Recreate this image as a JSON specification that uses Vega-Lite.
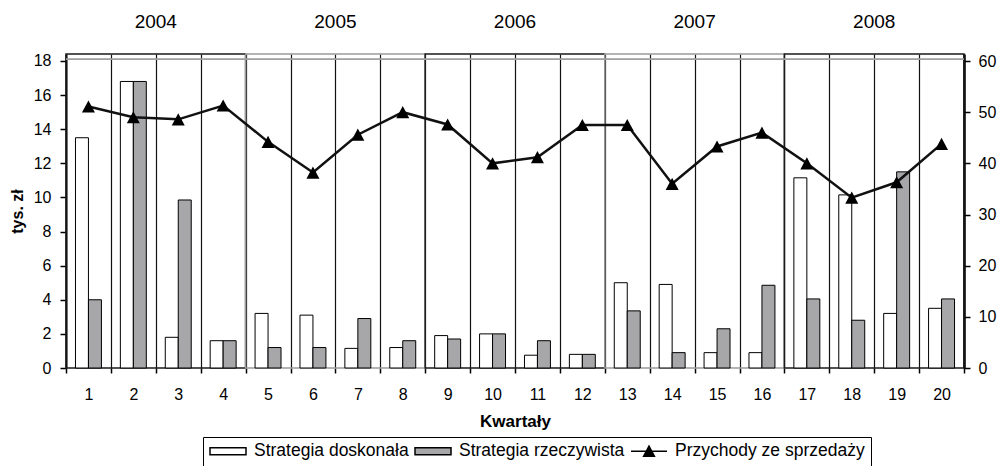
{
  "$schema": "https://vega.github.io/schema/vega-lite/v6.json",
  "autosize": {"type": "none"},
  "padding": {"left": 66, "top": 54, "right": 34, "bottom": 98},
  "width": 898,
  "height": 314,
  "background": "white",
  "config": {
    "view": {"stroke": null},
    "font": "Liberation Sans",
    "axis": {"labelFont": "Liberation Sans", "titleFont": "Liberation Sans", "labelColor": "black", "titleColor": "black", "tickColor": "black", "domainColor": "black"},
    "legend": {"labelFont": "Liberation Sans"}
  },
  "datasets": {
    "years": [
      {"year": "2004"}, {"year": "2005"}, {"year": "2006"}, {"year": "2007"}, {"year": "2008"}
    ],
    "bars": [
      {"q": 1, "series": "Strategia doskonała", "v": 13.5}, {"q": 1, "series": "Strategia rzeczywista", "v": 4.0},
      {"q": 2, "series": "Strategia doskonała", "v": 16.8}, {"q": 2, "series": "Strategia rzeczywista", "v": 16.8},
      {"q": 3, "series": "Strategia doskonała", "v": 1.8}, {"q": 3, "series": "Strategia rzeczywista", "v": 9.85},
      {"q": 4, "series": "Strategia doskonała", "v": 1.6}, {"q": 4, "series": "Strategia rzeczywista", "v": 1.6},
      {"q": 5, "series": "Strategia doskonała", "v": 3.2}, {"q": 5, "series": "Strategia rzeczywista", "v": 1.2},
      {"q": 6, "series": "Strategia doskonała", "v": 3.1}, {"q": 6, "series": "Strategia rzeczywista", "v": 1.2},
      {"q": 7, "series": "Strategia doskonała", "v": 1.15}, {"q": 7, "series": "Strategia rzeczywista", "v": 2.9},
      {"q": 8, "series": "Strategia doskonała", "v": 1.2}, {"q": 8, "series": "Strategia rzeczywista", "v": 1.6},
      {"q": 9, "series": "Strategia doskonała", "v": 1.9}, {"q": 9, "series": "Strategia rzeczywista", "v": 1.7},
      {"q": 10, "series": "Strategia doskonała", "v": 2.0}, {"q": 10, "series": "Strategia rzeczywista", "v": 2.0},
      {"q": 11, "series": "Strategia doskonała", "v": 0.75}, {"q": 11, "series": "Strategia rzeczywista", "v": 1.6},
      {"q": 12, "series": "Strategia doskonała", "v": 0.8}, {"q": 12, "series": "Strategia rzeczywista", "v": 0.8},
      {"q": 13, "series": "Strategia doskonała", "v": 5.0}, {"q": 13, "series": "Strategia rzeczywista", "v": 3.35},
      {"q": 14, "series": "Strategia doskonała", "v": 4.9}, {"q": 14, "series": "Strategia rzeczywista", "v": 0.9},
      {"q": 15, "series": "Strategia doskonała", "v": 0.9}, {"q": 15, "series": "Strategia rzeczywista", "v": 2.3},
      {"q": 16, "series": "Strategia doskonała", "v": 0.9}, {"q": 16, "series": "Strategia rzeczywista", "v": 4.85},
      {"q": 17, "series": "Strategia doskonała", "v": 11.15}, {"q": 17, "series": "Strategia rzeczywista", "v": 4.05},
      {"q": 18, "series": "Strategia doskonała", "v": 10.15}, {"q": 18, "series": "Strategia rzeczywista", "v": 2.8},
      {"q": 19, "series": "Strategia doskonała", "v": 3.2}, {"q": 19, "series": "Strategia rzeczywista", "v": 11.5},
      {"q": 20, "series": "Strategia doskonała", "v": 3.5}, {"q": 20, "series": "Strategia rzeczywista", "v": 4.05}
    ],
    "revenue": [
      {"q": 1, "series": "Przychody ze sprzedaży", "v": 51.1}, {"q": 2, "series": "Przychody ze sprzedaży", "v": 49.0},
      {"q": 3, "series": "Przychody ze sprzedaży", "v": 48.6}, {"q": 4, "series": "Przychody ze sprzedaży", "v": 51.3},
      {"q": 5, "series": "Przychody ze sprzedaży", "v": 44.2}, {"q": 6, "series": "Przychody ze sprzedaży", "v": 38.2},
      {"q": 7, "series": "Przychody ze sprzedaży", "v": 45.6}, {"q": 8, "series": "Przychody ze sprzedaży", "v": 50.0},
      {"q": 9, "series": "Przychody ze sprzedaży", "v": 47.6}, {"q": 10, "series": "Przychody ze sprzedaży", "v": 40.0},
      {"q": 11, "series": "Przychody ze sprzedaży", "v": 41.2}, {"q": 12, "series": "Przychody ze sprzedaży", "v": 47.5},
      {"q": 13, "series": "Przychody ze sprzedaży", "v": 47.5}, {"q": 14, "series": "Przychody ze sprzedaży", "v": 36.0},
      {"q": 15, "series": "Przychody ze sprzedaży", "v": 43.3}, {"q": 16, "series": "Przychody ze sprzedaży", "v": 46.0},
      {"q": 17, "series": "Przychody ze sprzedaży", "v": 40.0}, {"q": 18, "series": "Przychody ze sprzedaży", "v": 33.3},
      {"q": 19, "series": "Przychody ze sprzedaży", "v": 36.3}, {"q": 20, "series": "Przychody ze sprzedaży", "v": 43.8}
    ]
  },
  "layer": [
    {
      "data": {"name": "years"},
      "mark": {"type": "rect", "fill": "transparent", "strokeWidth": 1.5},
      "encoding": {
        "x": {
          "field": "year", "type": "ordinal",
          "scale": {"type": "band", "paddingInner": 0, "paddingOuter": 0},
          "axis": {"orient": "top", "title": null, "domain": false, "ticks": false, "tickSize": 0, "labelFontSize": 19, "labelPadding": 23, "grid": false, "labelAngle": 0}
        },
        "stroke": {
          "field": "year", "type": "nominal",
          "scale": {"range": ["#1a1a1a", "#9a9a9a", "#1a1a1a", "#9a9a9a", "#1a1a1a"]},
          "legend": null
        }
      }
    },
    {
      "data": {"name": "years"},
      "mark": {"type": "rule", "color": "#a0a0a0", "strokeWidth": 1.2},
      "encoding": {
        "y": {"datum": 18.09, "type": "quantitative", "scale": {"domain": [0, 18.41], "nice": false}, "axis": null}
      }
    },
    {
      "data": {"name": "bars"},
      "mark": {"type": "bar", "stroke": "black", "strokeWidth": 1},
      "encoding": {
        "x": {
          "field": "q", "type": "ordinal",
          "scale": {"type": "band", "paddingInner": 0, "paddingOuter": 0},
          "axis": {
            "orient": "bottom", "title": "Kwartały", "titleFontSize": 17, "titleFontWeight": "bold", "titlePadding": 11,
            "labelAngle": 0, "labelFontSize": 16, "labelPadding": 13, "tickBand": "extent",
            "grid": true, "gridColor": "#111111", "gridWidth": 1.2, "gridOpacity": 1,
            "ticks": true, "tickSize": 5, "tickWidth": 1.5, "domain": false
          }
        },
        "xOffset": {
          "field": "series", "type": "nominal",
          "scale": {"domain": ["Strategia doskonała", "Strategia rzeczywista"], "paddingInner": 0, "paddingOuter": 0.73}
        },
        "y": {
          "field": "v", "type": "quantitative",
          "scale": {"domain": [0, 18.41], "nice": false},
          "axis": {
            "orient": "left", "title": "tys. zł", "titleFontSize": 16, "titleFontWeight": "bold", "titlePadding": 8,
            "values": [0, 2, 4, 6, 8, 10, 12, 14, 16, 18], "labelFontSize": 16, "labelPadding": 9,
            "tickSize": 6, "tickWidth": 1.5, "domainWidth": 2, "grid": false
          }
        },
        "fill": {
          "field": "series", "type": "nominal",
          "scale": {"domain": ["Strategia doskonała", "Strategia rzeczywista", "Przychody ze sprzedaży"], "range": ["#ffffff", "#a7a7aa", "#000000"]},
          "legend": {
            "title": null, "orient": "none", "legendX": 137, "legendY": 383,
            "direction": "horizontal", "columns": 3,
            "strokeColor": "black", "padding": 6, "fillColor": "white",
            "labelFontSize": 17.5, "labelColor": "black", "labelOffset": 7, "columnPadding": 5,
            "symbolSize": 1296, "labelLimit": 400, "clipHeight": 16
          }
        }
      }
    },
    {
      "data": {"name": "revenue"},
      "mark": {
        "type": "line", "color": "#111111", "strokeWidth": 2.5,
        "point": {"size": 1884, "filled": true, "color": "#000000", "strokeWidth": 0}
      },
      "encoding": {
        "x": {
          "field": "q", "type": "ordinal", "bandPosition": 0.5,
          "scale": {"type": "band", "paddingInner": 0, "paddingOuter": 0},
          "axis": null
        },
        "y": {
          "field": "v", "type": "quantitative",
          "scale": {"domain": [0, 61.37], "nice": false},
          "axis": {
            "orient": "right", "title": null,
            "values": [0, 10, 20, 30, 40, 50, 60], "labelFontSize": 16, "labelPadding": 8,
            "tickSize": 6, "tickWidth": 1.5, "domainWidth": 2.5, "grid": false
          }
        },
        "shape": {
          "field": "series", "type": "nominal",
          "scale": {
            "domain": ["Strategia doskonała", "Strategia rzeczywista", "Przychody ze sprzedaży"],
            "range": ["M-1,-0.2H1V0.2H-1Z", "M-1,-0.2H1V0.2H-1Z", "M-1,0H1M-0.3,0.28L0,-0.28L0.3,0.28Z"]
          },
          "legend": {"title": null}
        }
      }
    }
  ],
  "resolve": {
    "scale": {"x": "independent", "y": "independent"},
    "axis": {"x": "independent", "y": "independent"}
  }
}
